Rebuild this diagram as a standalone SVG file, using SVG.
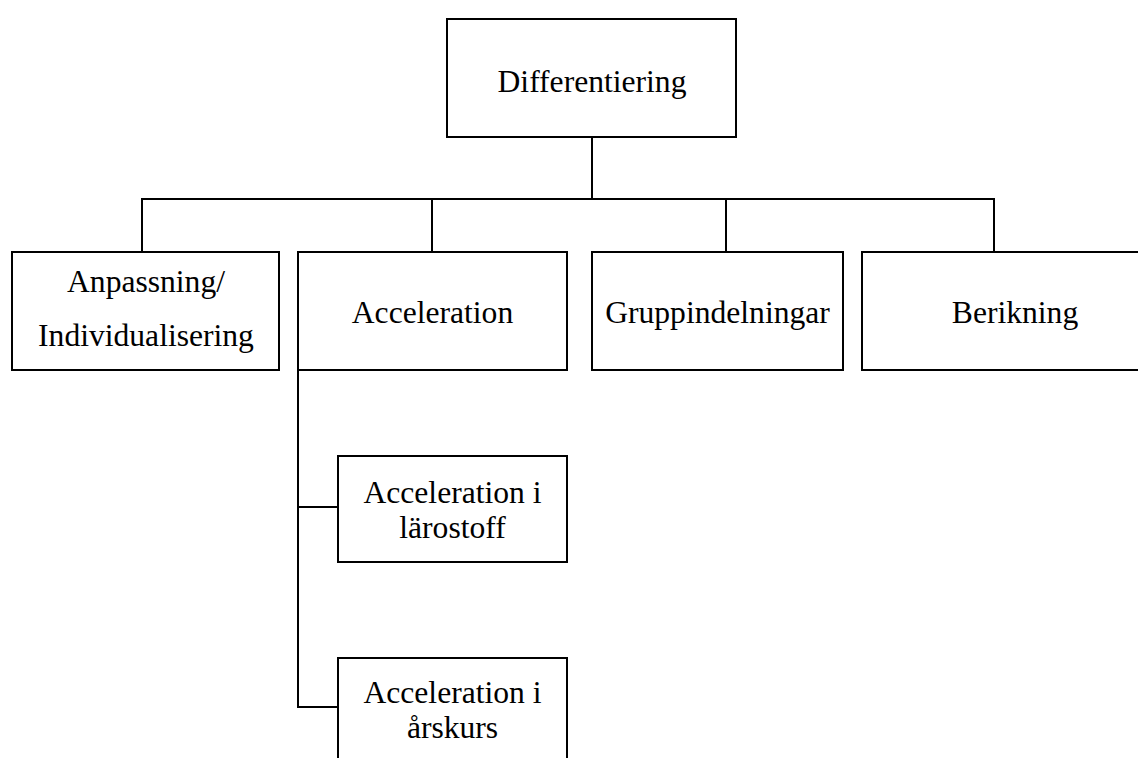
<svg xmlns="http://www.w3.org/2000/svg" width="1138" height="758" viewBox="0 0 1138 758">
<style>
.box{fill:#fff;stroke:#000;stroke-width:2}
.lbl{font-family:"Liberation Serif","Times New Roman",serif;font-size:31.6px;fill:#000;text-anchor:middle}
.con{fill:none;stroke:#000;stroke-width:2}
</style>
<rect width="1138" height="758" fill="#fff"/>
<g id="connectors">
<line class="con" x1="592" y1="137" x2="592" y2="199"/>
<polyline class="con" points="142,252 142,199 994,199 994,252"/>
<line class="con" x1="432" y1="199" x2="432" y2="252"/>
<line class="con" x1="726" y1="199" x2="726" y2="252"/>
<polyline class="con" points="298,370 298,707 338,707"/>
<line class="con" x1="298" y1="507" x2="338" y2="507"/>
</g>
<g id="n-differentiering">
<rect class="box" x="447" y="19" width="289" height="118"/>
<text class="lbl" x="592" y="92">Differentiering</text>
</g>
<g id="n-anpassning">
<rect class="box" x="12" y="252" width="267" height="118"/>
<text class="lbl" x="146" y="292">Anpassning/</text>
<text class="lbl" x="146" y="346">Individualisering</text>
</g>
<g id="n-acceleration">
<rect class="box" x="298" y="252" width="269" height="118"/>
<text class="lbl" x="432.5" y="323">Acceleration</text>
</g>
<g id="n-gruppindelningar">
<rect class="box" x="592" y="252" width="251" height="118"/>
<text class="lbl" x="717.5" y="323">Gruppindelningar</text>
</g>
<g id="n-berikning">
<rect class="box" x="862" y="252" width="306" height="118"/>
<text class="lbl" x="1015" y="323">Berikning</text>
</g>
<g id="n-acc-larostoff">
<rect class="box" x="338" y="456" width="229" height="106"/>
<text class="lbl" x="452.5" y="503">Acceleration i</text>
<text class="lbl" x="452.5" y="538">lärostoff</text>
</g>
<g id="n-acc-arskurs">
<rect class="box" x="338" y="658" width="229" height="110"/>
<text class="lbl" x="452.5" y="703">Acceleration i</text>
<text class="lbl" x="452.5" y="738">årskurs</text>
</g>
</svg>
